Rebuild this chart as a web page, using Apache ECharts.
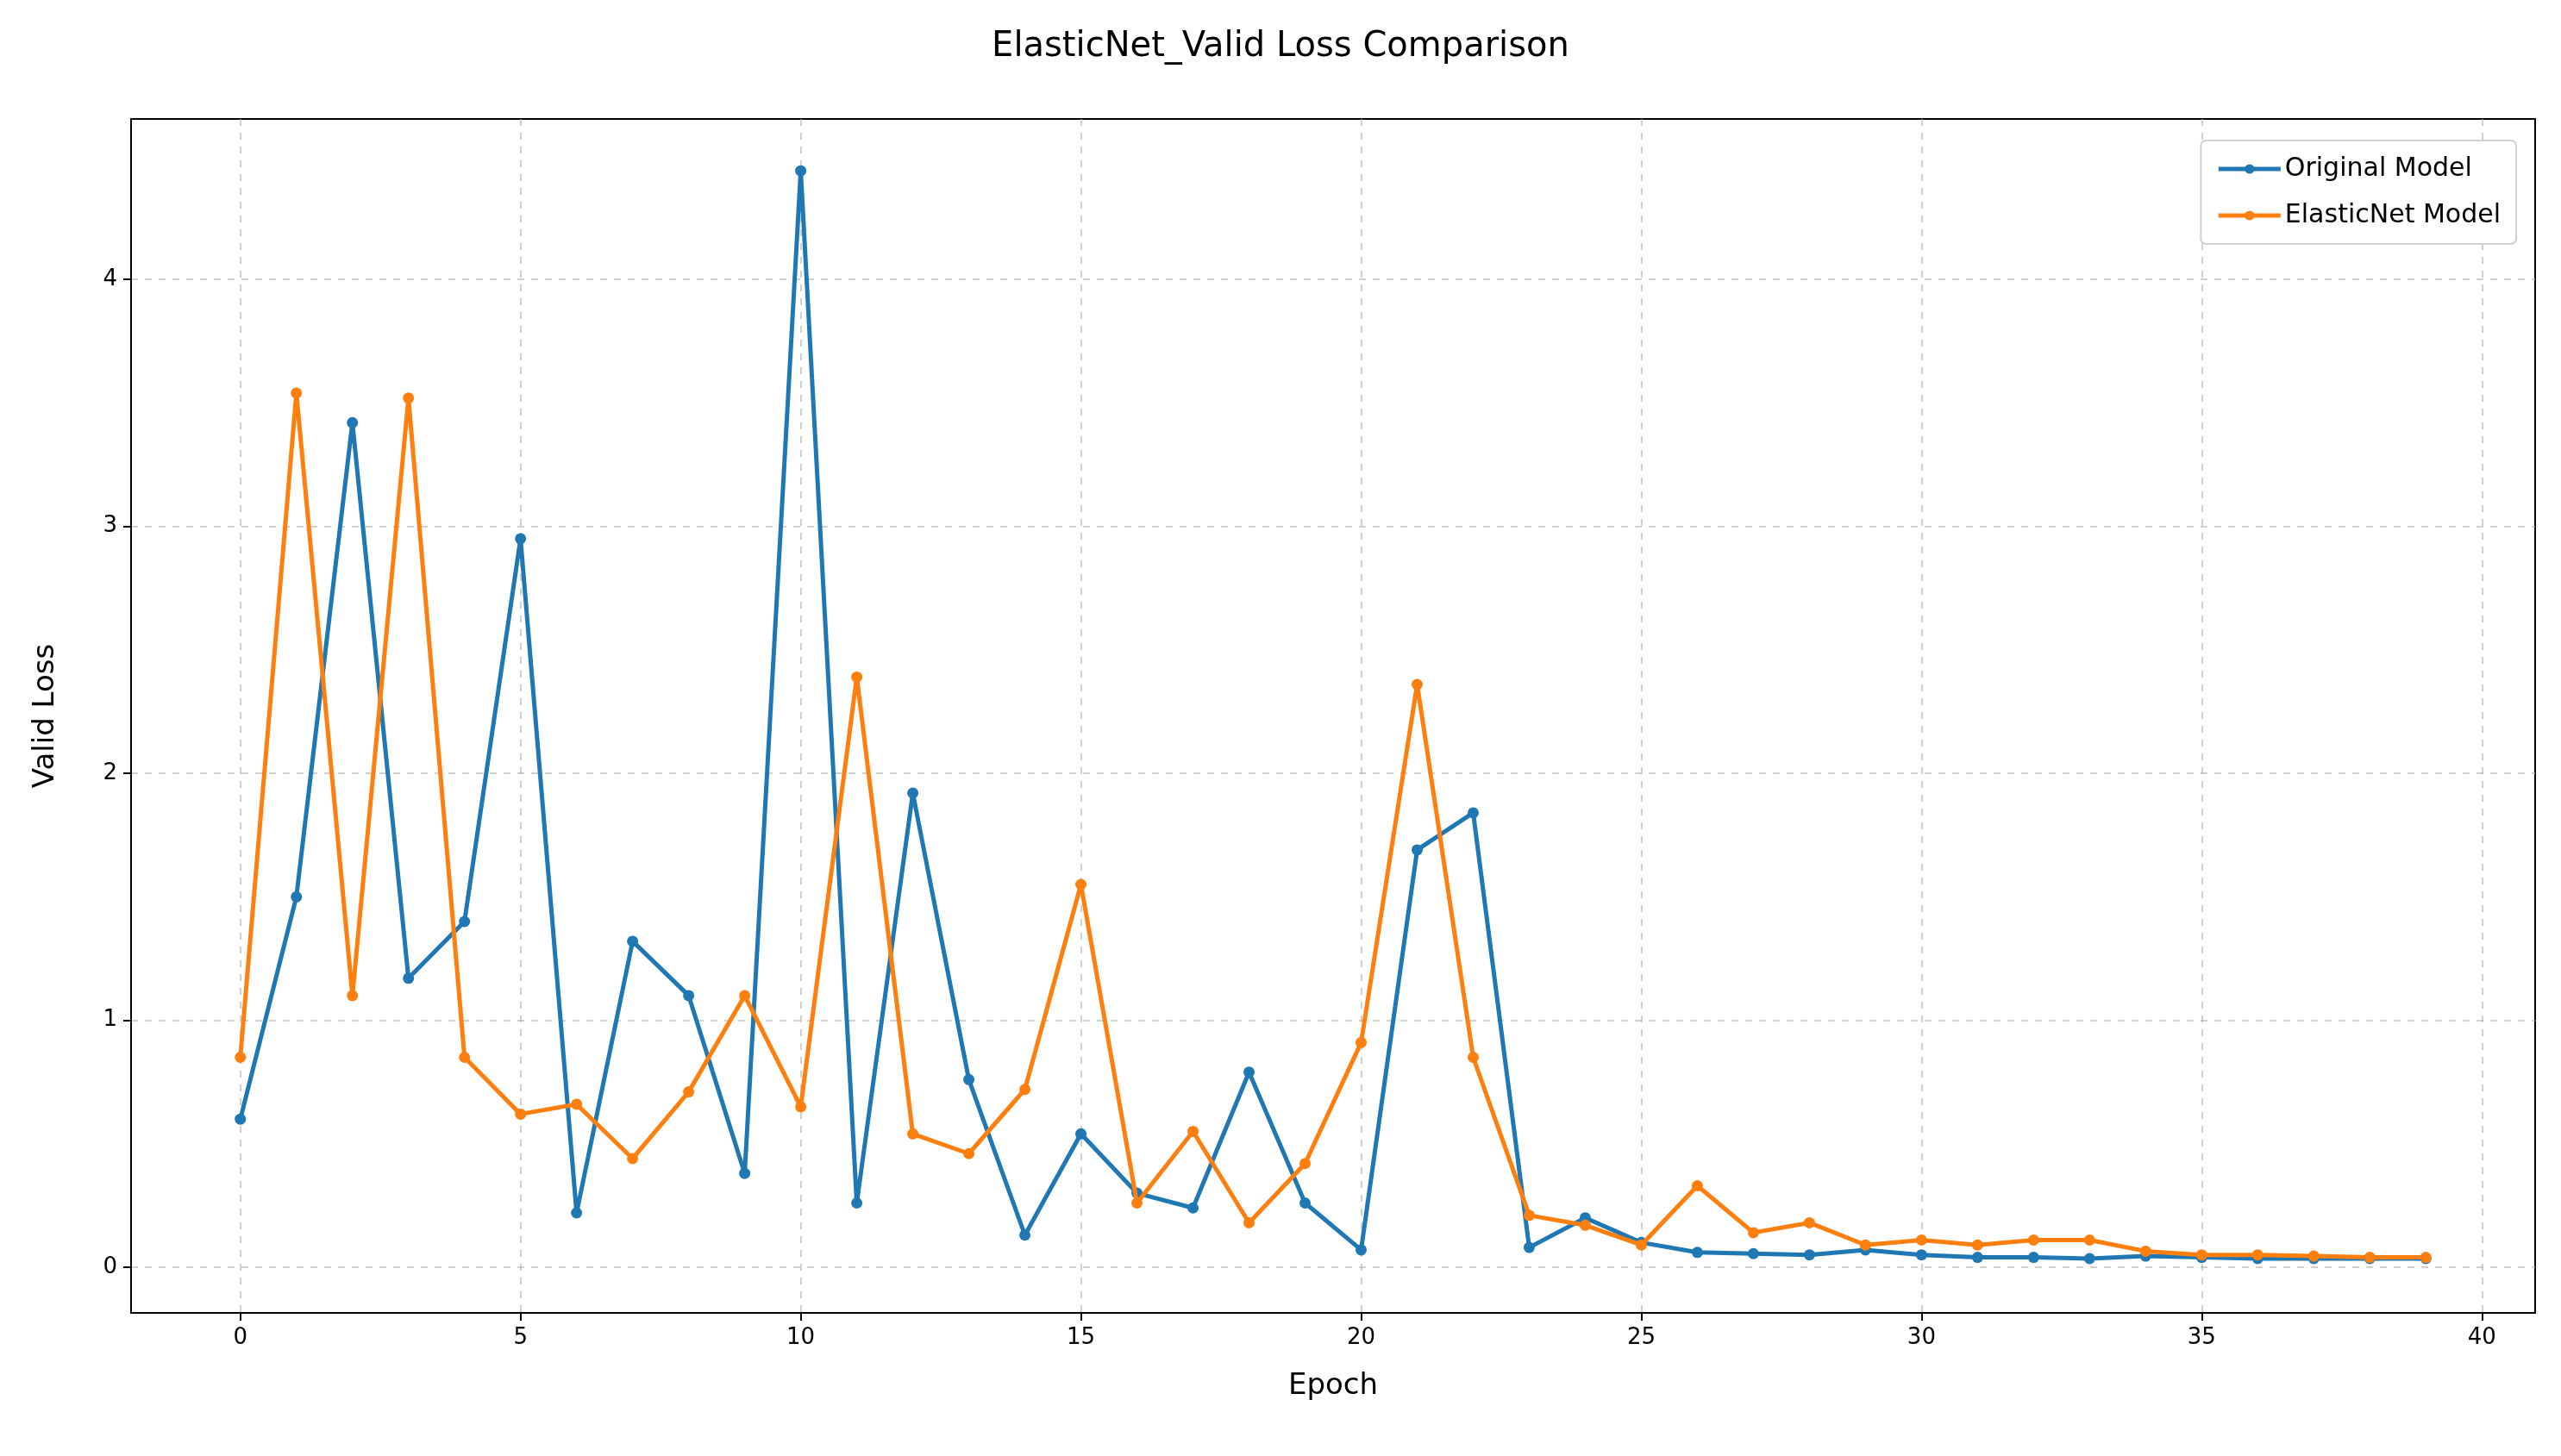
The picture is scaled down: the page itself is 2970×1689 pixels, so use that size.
<!DOCTYPE html>
<html>
<head>
<meta charset="utf-8">
<script src="https://cdn.jsdelivr.net/npm/echarts@6/dist/echarts.min.js"></script>
<style>html,body{margin:0;background:#fff}#container{width:2970px;height:1689px}</style>
</head>
<body>
<div id="container"></div>
<script>
var epochs = [];
for (var i = 0; i < 40; i++) epochs.push(i);
var originalLoss = [0.60, 1.50, 3.42, 1.17, 1.40, 2.95, 0.22, 1.32, 1.10, 0.38,
  4.44, 0.26, 1.92, 0.76, 0.13, 0.54, 0.30, 0.24, 0.79, 0.26,
  0.07, 1.69, 1.84, 0.08, 0.20, 0.10, 0.06, 0.055, 0.05, 0.07,
  0.05, 0.04, 0.04, 0.035, 0.045, 0.04, 0.035, 0.035, 0.035, 0.035];
var elasticLoss = [0.85, 3.54, 1.10, 3.52, 0.85, 0.62, 0.66, 0.44, 0.71, 1.10,
  0.65, 2.39, 0.54, 0.46, 0.72, 1.55, 0.26, 0.55, 0.18, 0.42,
  0.91, 2.36, 0.85, 0.21, 0.17, 0.09, 0.33, 0.14, 0.18, 0.09,
  0.11, 0.09, 0.11, 0.11, 0.065, 0.05, 0.05, 0.045, 0.04, 0.04];
var xTicks = [0, 5, 10, 15, 20, 25, 30, 35, 40];
var yTicks = [0, 1, 2, 3, 4];

function pairs(ys) { return epochs.map(function (e, i) { return [e, ys[i]]; }); }

var myChart = echarts.init(document.getElementById('container'), null, { renderer: 'canvas' });
var font = 'DejaVu Sans';
var gridLine = { show: true, lineStyle: { color: '#b0b0b0', type: [8, 8], width: 1.5, opacity: 0.8 } };
var option = {
  backgroundColor: '#fff',
  animation: false,
  textStyle: { fontFamily: font },
  title: {
    text: 'ElasticNet_Valid Loss Comparison',
    left: 'center', top: 30,
    textStyle: { fontSize: 40, fontWeight: 'normal', color: '#000', fontFamily: font }
  },
  legend: {
    right: 52, top: 163, orient: 'vertical',
    padding: [18, 18, 18, 18], itemGap: 24,
    itemWidth: 72, itemHeight: 14,
    lineStyle: { width: 5 },
    backgroundColor: '#fff', borderColor: '#d0d0d0', borderWidth: 2, borderRadius: 6,
    textStyle: { fontSize: 30, color: '#000', fontFamily: font },
    data: ['Original Model', 'ElasticNet Model']
  },
  grid: { left: 152, right: 30, top: 138, bottom: 166, show: true, borderColor: '#000', borderWidth: 2 },
  xAxis: {
    type: 'value', min: -1.95, max: 40.95,
    name: 'Epoch', nameLocation: 'middle', nameGap: 68,
    nameTextStyle: { fontSize: 34, color: '#000', fontFamily: font },
    axisLine: { onZero: false, lineStyle: { color: '#000', width: 2 } },
    axisTick: { customValues: xTicks, length: 9, lineStyle: { color: '#000', width: 2 } },
    axisLabel: { customValues: xTicks, fontSize: 26, color: '#000', margin: 16 },
    splitLine: gridLine
  },
  yAxis: {
    type: 'value', min: -0.185, max: 4.65,
    name: 'Valid Loss', nameLocation: 'middle', nameGap: 82,
    nameTextStyle: { fontSize: 34, color: '#000', fontFamily: font },
    axisLine: { show: true, onZero: false, lineStyle: { color: '#000', width: 2 } },
    axisTick: { show: true, customValues: yTicks, length: 9, lineStyle: { color: '#000', width: 2 } },
    axisLabel: { customValues: yTicks, fontSize: 26, color: '#000', margin: 16 },
    splitLine: gridLine
  },
  series: [
    {
      name: 'Original Model', type: 'line', data: pairs(originalLoss),
      color: '#1f77b4', symbol: 'circle', symbolSize: 13,
      lineStyle: { width: 5 }, z: 3
    },
    {
      name: 'ElasticNet Model', type: 'line', data: pairs(elasticLoss),
      color: '#ff7f0e', symbol: 'circle', symbolSize: 13,
      lineStyle: { width: 5 }, z: 4
    }
  ]
};
myChart.setOption(option);
window.addEventListener('resize', myChart.resize);
</script>
</body>
</html>
